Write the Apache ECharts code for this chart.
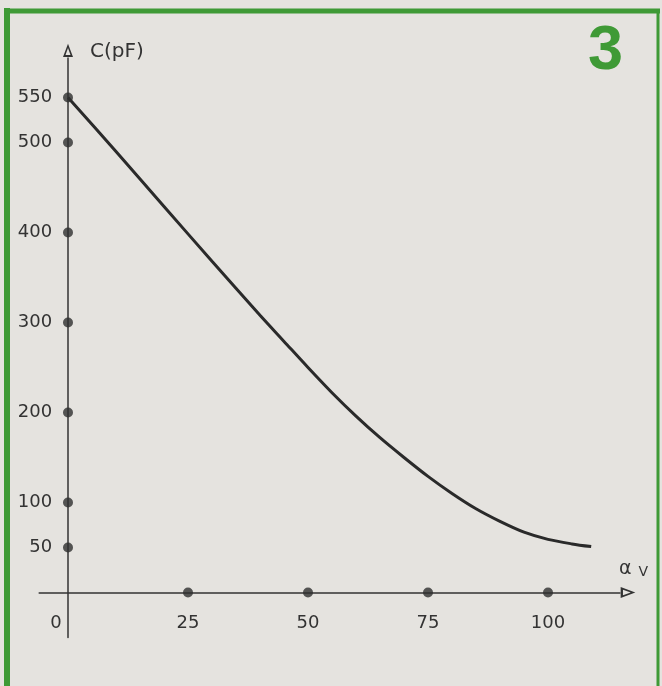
<!DOCTYPE html>
<html>
<head>
<meta charset="utf-8">
<script src="https://cdn.jsdelivr.net/npm/echarts@6/dist/echarts.min.js"></script>
<style>
  html, body { margin: 0; padding: 0; background: #e5e3df; }
  #chart { width: 662px; height: 686px; }
</style>
</head>
<body>
<div id="chart"></div>
<script>
// Capacitance of the variable capacitor versus rotation angle
const alphaValues = [0, 10, 20, 30, 40, 45, 50, 55, 60, 65, 70, 75, 80, 85, 90, 95, 100, 105, 109];
const capValues   = [550, 490, 429, 368, 308, 279, 250, 222, 196, 172, 150, 129, 110, 93, 79, 67, 59, 54, 51];

// Marked graduations on each axis
const yTickValues = [50, 100, 200, 300, 400, 500, 550];
const xTickValues = [25, 50, 75, 100];
const xLabelValues = [0, 25, 50, 75, 100];

const ink = '#333333';
const green = '#3f9a36';
const labelFont = 'DejaVu Sans';

// hollow arrow head: outer triangle with an inner cut-out
const arrowPath = 'path://M6 0 L12 16 L0 16 Z M6 5 L3 13.5 L9 13.5 Z';

const chart = echarts.init(document.getElementById('chart'), null, { renderer: 'canvas' });

chart.setOption({
  backgroundColor: '#e5e3df',
  animation: false,
  grid: {
    left: 39.2,
    right: 42,
    top: 57.9,
    bottom: 48.5,
    outerBoundsMode: 'none'
  },
  xAxis: {
    type: 'value',
    min: -6,
    max: 115,
    name: '{a|α}{v|V}',
    nameLocation: 'end',
    nameGap: -1,
    nameTextStyle: {
      verticalAlign: 'bottom',
      padding: [0, 0, 13, 0],
      rich: {
        a: { fontFamily: labelFont, fontSize: 19, color: ink },
        v: { fontFamily: labelFont, fontSize: 14, color: ink, padding: [7, 0, 0, 7] }
      }
    },
    axisLine: {
      onZero: true,
      lineStyle: { color: ink, width: 1.5 },
      symbol: ['none', arrowPath],
      symbolSize: [11, 16],
      symbolOffset: [0, 8]
    },
    axisTick: { show: false },
    splitLine: { show: false },
    axisLabel: {
      customValues: xLabelValues,
      margin: -23.5,
      color: ink,
      fontFamily: labelFont,
      fontSize: 18,
      formatter: function (v) {
        return v === 0 ? '{z|0}' : String(v);
      },
      rich: {
        z: { fontFamily: labelFont, fontSize: 18, color: ink, padding: [0, 24, 0, 0] }
      }
    }
  },
  yAxis: {
    type: 'value',
    min: -50,
    max: 594,
    name: 'C(pF)',
    nameLocation: 'end',
    nameGap: 6,
    nameTextStyle: {
      align: 'left',
      verticalAlign: 'middle',
      padding: [0, 0, 0, 22],
      fontFamily: labelFont,
      fontSize: 20,
      color: ink
    },
    axisLine: {
      onZero: true,
      lineStyle: { color: ink, width: 1.5 },
      symbol: ['none', arrowPath],
      symbolSize: [10, 15],
      symbolOffset: [0, 7.5]
    },
    axisTick: { show: false },
    splitLine: { show: false },
    axisLabel: {
      customValues: yTickValues,
      margin: -13,
      color: ink,
      fontFamily: labelFont,
      fontSize: 18
    }
  },
  series: [
    {
      type: 'line',
      data: alphaValues.map((a, i) => [a, capValues[i]]),
      smooth: 0.3,
      showSymbol: false,
      lineStyle: { color: '#2a2a2a', width: 3 },
      z: 3
    },
    {
      type: 'scatter',
      data: yTickValues.map(v => [0, v]),
      symbolSize: 10,
      itemStyle: { color: '#2e2e2e' },
      z: 4
    },
    {
      type: 'scatter',
      data: xTickValues.map(v => [v, 0]),
      symbolSize: 10,
      itemStyle: { color: '#2e2e2e' },
      z: 4
    }
  ],
  graphic: [
    // green frame (open at the bottom)
    { type: 'line', shape: { x1: 7, y1: 8, x2: 7, y2: 700 }, style: { stroke: green, lineWidth: 6 }, silent: true },
    { type: 'line', shape: { x1: 4, y1: 11, x2: 660, y2: 11 }, style: { stroke: green, lineWidth: 5 }, silent: true },
    { type: 'line', shape: { x1: 658, y1: 9, x2: 658, y2: 700 }, style: { stroke: green, lineWidth: 3 }, silent: true },
    // figure number
    {
      type: 'text',
      left: 588,
      top: 20,
      style: {
        text: '3',
        fill: green,
        font: 'bold 63px "Liberation Sans", Arial, sans-serif'
      },
      silent: true
    }
  ]
});
</script>
</body>
</html>
